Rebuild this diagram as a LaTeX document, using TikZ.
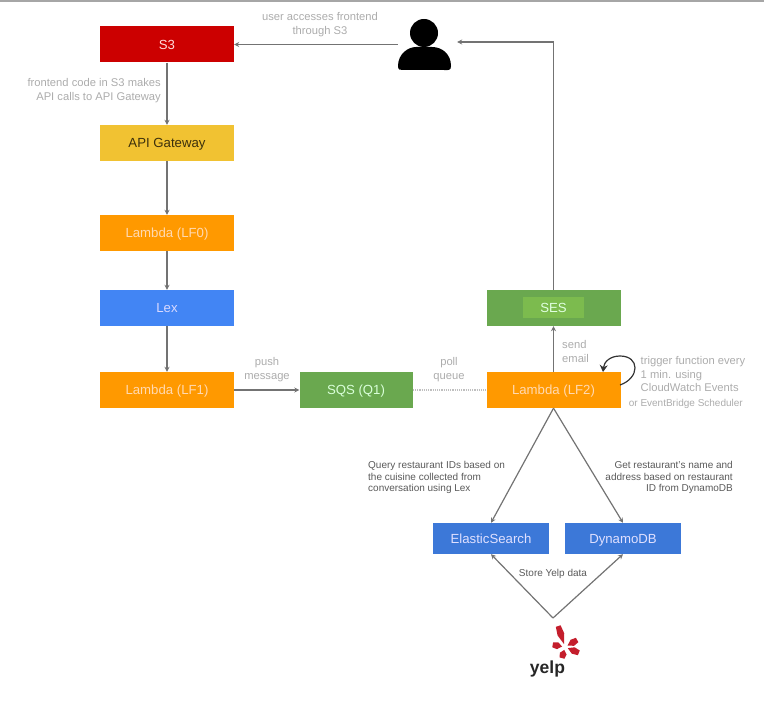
\documentclass[tikz,border=0pt]{standalone}
\usepackage{fontspec}
\setmainfont{Liberation Sans}
\usepackage{xcolor}
\usetikzlibrary{arrows.meta}
\definecolor{sthree}{HTML}{CC0000}
\definecolor{gateway}{HTML}{F1C232}
\definecolor{lambda}{HTML}{FF9900}
\definecolor{lexblue}{HTML}{4285F4}
\definecolor{sqsgreen}{HTML}{6AA84F}
\definecolor{sesinner}{HTML}{7CBB4E}
\definecolor{dbblue}{HTML}{3C78D8}
\definecolor{yelpred}{HTML}{C41E2C}
\begin{document}
\begin{tikzpicture}[x=1pt, y=-1pt, >={Stealth[length=5pt,width=5pt]},
    service/.style={minimum width=134pt, minimum height=36pt, inner sep=0pt, text height=9.5pt, text depth=0pt, font=\fontsize{13.2}{15}\selectfont},
    store/.style={minimum width=116pt, minimum height=31pt, inner sep=0pt, text height=9.5pt, text depth=0pt, font=\fontsize{13.2}{15}\selectfont, fill=dbblue, text=blue!12!white},
    note/.style={inner sep=0pt, text=gray!65, font=\fontsize{11.2}{13.8}\selectfont},
    darknote/.style={inner sep=0pt, text=black!65, font=\fontsize{10}{11.8}\selectfont},
    link/.style={->, line width=1.2pt, black!55}]
    \useasboundingbox (0,0) rectangle (764,714);
    \fill[gray!70] (0,0) rectangle (764,2);
    % Services on the left
    \node[service, fill=sthree, text=red!15!white] (s3) at (167,44.5) {S3};
    \node[service, fill=gateway, text=black!75!gateway] (api) at (167,143) {API Gateway};
    \node[service, fill=lambda, text=orange!30!white] (lf0) at (167,233) {Lambda (LF0)};
    \node[service, fill=lexblue, text=blue!15!white] (lex) at (167,308) {Lex};
    \node[service, fill=lambda, text=orange!30!white] (lf1) at (167,390) {Lambda (LF1)};
    % Queue and worker
    \node[service, minimum width=113pt, fill=sqsgreen, text=green!15!white] (sqs) at (356,390) {SQS (Q1)};
    \node[service, fill=lambda, text=orange!30!white] (lf2) at (553.5,390) {Lambda (LF2)};
    \node[service, fill=sqsgreen] (ses) at (553.5,308) {};
    \node[minimum width=61pt, minimum height=21pt, inner sep=0pt, fill=sesinner, text=green!12!white, text height=9.5pt, text depth=0pt, font=\fontsize{13.2}{15}\selectfont] (seslabel) at (553.5,308) {SES};
    % Data stores
    \node[store] (es) at (491,538.5) {ElasticSearch};
    \node[store] (dynamo) at (623,538.5) {DynamoDB};
    % User icon
    \node[minimum width=53pt, minimum height=54pt, inner sep=0pt] (user) at (424.5,44) {};
    \fill[black] (424,33) circle (14);
    \fill[black] (398,66) .. controls (398,54) and (408,47) .. (416,47) -- (432,47) .. controls (442,47) and (451,54) .. (451,66) .. controls (451,71) and (448,70) .. (444,70) -- (403,70) .. controls (400,70) and (398,70) .. (398,66) -- cycle;
    % Yelp logo
    \node[inner sep=0pt, text=black!85, font=\bfseries\fontsize{17.5}{18}\selectfont] (yelp) at (547.5,669) {yelp};
    \foreach \ang/\len in {108/22, 30/14, -23/15, -105/11.5, 170/12.5}
        \fill[yelpred, rotate around={\ang:(565,647)}] (568,647) -- (565+0.6*\len,643.5) -- (565+\len,644.5) -- (565+\len,649.5) -- (565+0.6*\len,650.5) -- cycle;
    \coordinate (apex) at (553,618);
    \coordinate (corner) at (553.5,42);
    \coordinate (loopstart) at (620,385);
    \coordinate (looptop) at (620,356);
    \coordinate (loopend) at (603,372);
    % Arrows
    \draw[link] (user.west |- s3.east) -- (s3.east);
    \draw[link] (s3) -- (api);
    \draw[link] (api) -- (lf0);
    \draw[link] (lf0) -- (lex);
    \draw[link] (lex) -- (lf1);
    \draw[link] (lf1) -- (sqs);
    \draw[line width=1.2pt, densely dotted, black!25] (sqs) -- (lf2);
    \draw[link] (lf2) -- (ses);
    \draw[link] (ses.north) -- (corner) -- ([xshift=6pt]user.east |- corner);
    \draw[->, >={Stealth[length=7pt,width=8pt]}, line width=1.2pt, black!80] (loopstart) .. controls (640,378) and (640,356) .. (looptop) .. controls (610,356) and (604,362) .. (loopend);
    \draw[link] (lf2.south) -- (es.north);
    \draw[link] (lf2.south) -- (dynamo.north);
    \draw[link] (apex) -- (es.south);
    \draw[link] (apex) -- (dynamo.south);
    % Labels
    \node[note, align=center] (lbluser) at (320,24.5) {user accesses frontend\\through S3};
    \node[note, align=right, anchor=east] (lblfrontend) at (161,90.5) {frontend code in S3 makes\\API calls to API Gateway};
    \node[note, align=center] (lblpush) at (267,369.5) {push\\message};
    \node[note, align=center] (lblpoll) at (449,369.5) {poll\\queue};
    \node[note, align=left, anchor=west] (lblsend) at (562,351.5) {send\\email};
    \node[note, align=left, anchor=north west] (lbltrigger) at (640.5,356) {trigger function every\\1 min. using\\CloudWatch Events};
    \node[note, anchor=east, font=\fontsize{10}{12}\selectfont] (lblbridge) at (743,404) {or EventBridge Scheduler};
    \node[darknote, align=left, anchor=west] (lblquery) at (368,477.5) {Query restaurant IDs based on\\the cuisine collected from\\conversation using Lex};
    \node[darknote, align=right, anchor=east] (lblget) at (733,477.5) {Get restaurant's name and\\address based on restaurant\\ID from DynamoDB};
    \node[darknote] (lblstore) at (553,573.5) {Store Yelp data};
\end{tikzpicture}
\end{document}
